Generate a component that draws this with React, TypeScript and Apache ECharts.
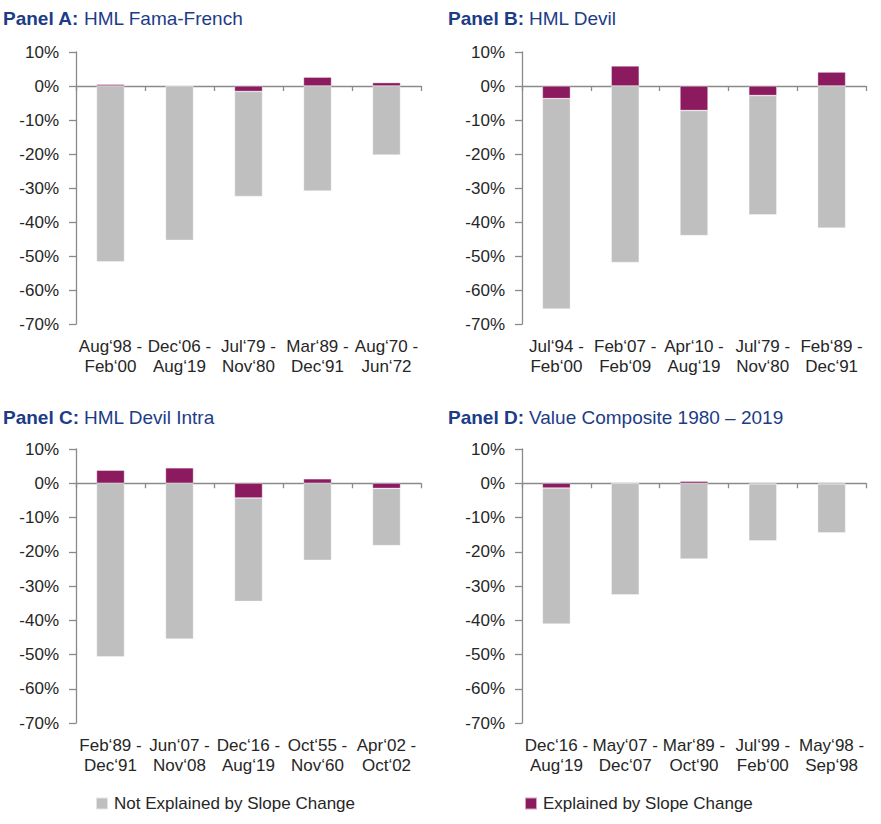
import React, { useEffect, useRef } from "react";
import * as echarts from "echarts";

const titlesBold = ["Panel A:", "Panel B:", "Panel C:", "Panel D:"];
const titlesRest = ["HML Fama-French", "HML Devil", "HML Devil Intra", "Value Composite 1980 – 2019"];

const catA = ["Aug‘98 -\nFeb‘00", "Dec‘06 -\nAug‘19", "Jul‘79 -\nNov‘80", "Mar‘89 -\nDec‘91", "Aug‘70 -\nJun‘72"];
const notA = [-51.7, -45.4, -30.9, -30.9, -20.3];
const expA = [0.5, 0, -1.6, 2.6, 1.0];

const catB = ["Jul‘94 -\nFeb‘00", "Feb‘07 -\nFeb‘09", "Apr‘10 -\nAug‘19", "Jul‘79 -\nNov‘80", "Feb‘89 -\nDec‘91"];
const notB = [-61.9, -51.9, -36.8, -35.1, -41.8];
const expB = [-3.7, 5.9, -7.2, -2.8, 4.1];

const catC = ["Feb‘89 -\nDec‘91", "Jun‘07 -\nNov‘08", "Dec‘16 -\nAug‘19", "Oct‘55 -\nNov‘60", "Apr‘02 -\nOct‘02"];
const notC = [-50.7, -45.5, -30.2, -22.5, -16.7];
const expC = [3.8, 4.5, -4.3, 1.3, -1.5];

const catD = ["Dec‘16 -\nAug‘19", "May‘07 -\nDec‘07", "Mar‘89 -\nOct‘90", "Jul‘99 -\nFeb‘00", "May‘98 -\nSep‘98"];
const notD = [-39.7, -32.6, -22.1, -16.6, -14.3];
const expD = [-1.4, 0, 0.6, -0.2, -0.2];

const seriesNot = "Not Explained by Slope Change";
const seriesExp = "Explained by Slope Change";

const yMin = -70;
const yMax = 10;
const yStep = 10;

const GRAY = "#bfbfbf";
const PURPLE = "#8b1a5e";
const BLUE = "#1d3c87";
const TEXT = "#262626";
const AXIS = "#8a8a8a";
const FONT = "Liberation Sans, Arial, sans-serif";

export default function App() {
  const ref = useRef<HTMLDivElement>(null);
  useEffect(() => {
    if (!ref.current) return;
    const chart = echarts.init(ref.current, undefined, { renderer: "svg" });
    const cats = [catA, catB, catC, catD];
    const nots = [notA, notB, notC, notD];
    const exps = [expA, expB, expC, expD];
    const grids = [
      { left: 76, top: 52, width: 345, height: 272 },
      { left: 522, top: 52, width: 344, height: 272 },
      { left: 76, top: 449, width: 345, height: 274 },
      { left: 522, top: 449, width: 344, height: 274 },
    ];
    const titlePos = [
      { left: 3, top: 9 },
      { left: 448, top: 9 },
      { left: 3, top: 408 },
      { left: 448, top: 408 },
    ];
    const xAxis: any[] = [];
    const yAxis: any[] = [];
    const series: any[] = [];
    grids.forEach((_, i) => {
      xAxis.push({
        type: "category",
        gridIndex: i,
        data: cats[i],
        axisLine: { show: true, onZero: true, lineStyle: { color: AXIS, width: 1.3 } },
        axisTick: { show: true, length: 5, lineStyle: { color: AXIS, width: 1.3 } },
        axisLabel: { show: false },
      });
      xAxis.push({
        type: "category",
        gridIndex: i,
        position: "bottom",
        data: cats[i],
        axisLine: { show: false, onZero: false },
        axisTick: { show: false },
        axisLabel: {
          show: true,
          margin: 12,
          fontSize: 17,
          lineHeight: 20,
          color: TEXT,
          fontFamily: FONT,
          interval: 0,
        },
      });
      yAxis.push({
        type: "value",
        gridIndex: i,
        min: yMin,
        max: yMax,
        interval: yStep,
        axisLine: { show: true, lineStyle: { color: AXIS, width: 1.3 } },
        axisTick: { show: true, length: 7, lineStyle: { color: AXIS, width: 1.3 } },
        splitLine: { show: false },
        axisLabel: {
          margin: 17,
          fontSize: 17,
          color: TEXT,
          fontFamily: FONT,
          formatter: (v: number) => `${v}%`,
        },
      });
      series.push({
        name: seriesExp,
        type: "bar",
        xAxisIndex: i * 2,
        yAxisIndex: i,
        stack: "s" + i,
        barWidth: 28,
        data: exps[i],
        itemStyle: { color: PURPLE, borderColor: "rgba(255,255,255,0.6)", borderWidth: 0.6 },
      });
      series.push({
        name: seriesNot,
        type: "bar",
        xAxisIndex: i * 2,
        yAxisIndex: i,
        stack: "s" + i,
        barWidth: 28,
        data: nots[i],
        itemStyle: { color: GRAY, borderColor: "rgba(255,255,255,0.6)", borderWidth: 0.6 },
      });
    });
    const title = titlePos.map((p, i) => ({
      left: p.left,
      top: p.top,
      padding: 0,
      text: `{b|${titlesBold[i]}} {n|${titlesRest[i]}}`,
      textStyle: {
        fontFamily: FONT,
        rich: {
          b: { fontSize: 19, fontWeight: "bold", color: BLUE, fontFamily: FONT },
          n: { fontSize: 19, fontWeight: "normal", color: BLUE, fontFamily: FONT },
        },
      },
    }));
    const legendCommon = {
      top: 795,
      padding: 0,
      itemWidth: 12,
      itemHeight: 12,
      itemGap: 6,
      icon: "rect",
      selectedMode: false,
      textStyle: { fontSize: 17, color: TEXT, fontFamily: FONT, padding: [0, 0, 0, 1] },
    };
    chart.setOption({
      animation: false,
      title,
      legend: [
        { ...legendCommon, left: 95, data: [seriesNot] },
        { ...legendCommon, left: 524, data: [seriesExp] },
      ],
      grid: grids,
      xAxis,
      yAxis,
      series,
    });
    return () => chart.dispose();
  }, []);
  return (
    <div
      ref={ref}
      style={{ position: "fixed", left: 0, top: 0, width: 881, height: 824, background: "#fff" }}
    />
  );
}
